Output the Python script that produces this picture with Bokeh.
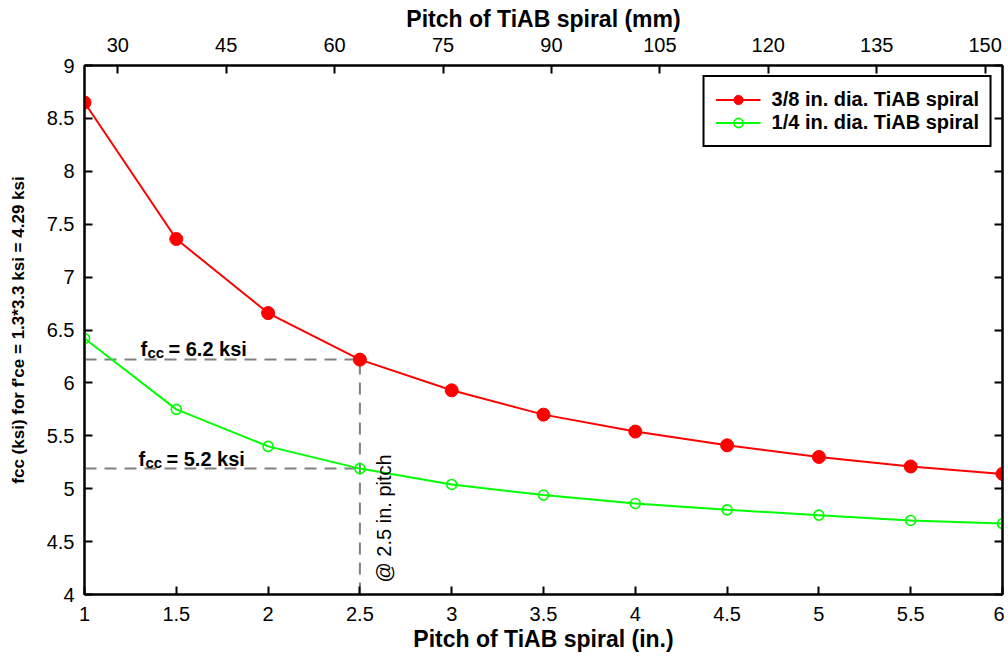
import math
from bokeh.plotting import figure
from bokeh.models import Range1d, LinearAxis, FixedTicker, Label, Legend, LegendItem
from bokeh.embed import file_html
from bokeh.resources import INLINE

# ---- data ----
pitch_in = [1, 1.5, 2, 2.5, 3, 3.5, 4, 4.5, 5, 5.5, 6]
fcc_38 = [8.65, 7.36, 6.66, 6.22, 5.93, 5.70, 5.54, 5.41, 5.30, 5.21, 5.14]
fcc_14 = [6.42, 5.75, 5.40, 5.19, 5.04, 4.94, 4.86, 4.80, 4.75, 4.70, 4.67]
x_ticks = [1, 1.5, 2, 2.5, 3, 3.5, 4, 4.5, 5, 5.5, 6]
y_ticks = [4, 4.5, 5, 5.5, 6, 6.5, 7, 7.5, 8, 8.5, 9]
mm_ticks = [30, 45, 60, 75, 90, 105, 120, 135, 150]
ref_pitch = 2.5
ref_fcc_38 = 6.22
ref_fcc_14 = 5.19
series_labels = ["3/8 in. dia. TiAB spiral", "1/4 in. dia. TiAB spiral"]

FONT = "Liberation Sans"
RED = "#ff0000"
GREEN = "#00ff00"

p = figure(width=1004, height=656,
           x_range=Range1d(1, 6), y_range=Range1d(4, 9),
           output_backend="svg", toolbar_location=None,
           min_border_left=84, min_border_right=2,
           min_border_top=65, min_border_bottom=62)
p.extra_x_ranges = {"mm": Range1d(25.4, 152.4)}
p.xgrid.visible = False
p.ygrid.visible = False
p.outline_line_color = "black"
p.outline_line_width = 2
p.outline_line_alpha = 1
p.background_fill_color = "white"
p.border_fill_color = "white"

def style(ax):
    ax.axis_line_color = "black"
    ax.axis_line_width = 2
    ax.major_tick_line_color = "black"
    ax.major_tick_line_width = 2
    ax.major_tick_in = 8
    ax.major_tick_out = 0
    ax.minor_tick_line_color = None
    ax.major_label_text_font = FONT
    ax.major_label_text_font_size = "20px"
    ax.major_label_text_color = "black"
    ax.axis_label_text_font = FONT
    ax.axis_label_text_font_style = "bold"
    ax.axis_label_text_color = "black"

xa = p.xaxis[0]
xa.ticker = FixedTicker(ticks=x_ticks)
xa.axis_label = "Pitch of TiAB spiral (in.)"
style(xa)
xa.axis_label_text_font_size = "23px"
xa.major_label_standoff = 12
xa.axis_label_standoff = 2

ya = p.yaxis[0]
ya.ticker = FixedTicker(ticks=y_ticks)
ya.axis_label = "fcc (ksi) for f'ce = 1.3*3.3 ksi = 4.29 ksi"
style(ya)
ya.axis_label_text_font_size = "17px"
ya.major_label_standoff = 10
ya.axis_label_standoff = 16

top = LinearAxis(x_range_name="mm", ticker=FixedTicker(ticks=mm_ticks),
                 axis_label="Pitch of TiAB spiral (mm)")
style(top)
top.axis_label_text_font_size = "23px"
top.major_label_standoff = 14
top.axis_label_standoff = 3
p.add_layout(top, "above")

right = LinearAxis(ticker=FixedTicker(ticks=y_ticks),
                   major_label_overrides={float(t): "" for t in y_ticks})
style(right)
right.major_label_standoff = 0
p.add_layout(right, "right")

# reference dashed lines
dash_kw = dict(line_color="#808080", line_width=2, line_dash="12 8")
p.line([1, ref_pitch], [ref_fcc_38, ref_fcc_38], **dash_kw)
p.line([1, ref_pitch], [ref_fcc_14, ref_fcc_14], **dash_kw)
p.line([ref_pitch, ref_pitch], [4, ref_fcc_38], **dash_kw)

# series
l1 = p.line(pitch_in, fcc_38, line_color=RED, line_width=2)
s1 = p.scatter(pitch_in, fcc_38, size=13, fill_color=RED, line_color=RED)
l2 = p.line(pitch_in, fcc_14, line_color=GREEN, line_width=2)
s2 = p.scatter(pitch_in, fcc_14, size=10, fill_color=None, line_color=GREEN, line_width=1.6)

legend = Legend(items=[LegendItem(label=series_labels[0], renderers=[l1, s1]),
                       LegendItem(label=series_labels[1], renderers=[l2, s2])],
                location="top_right")
legend.margin = 10
legend.padding = 11
legend.spacing = 0
legend.glyph_width = 45
legend.glyph_height = 23
legend.label_standoff = 11
legend.label_height = 23
legend.label_text_font = FONT
legend.label_text_font_style = "bold"
legend.label_text_font_size = "20px"
legend.label_text_color = "black"
legend.border_line_color = "black"
legend.border_line_width = 2
legend.border_line_alpha = 1
legend.background_fill_color = "white"
legend.background_fill_alpha = 1
p.add_layout(legend)

# annotations
def fcc_label(x, y, val):
    kw = dict(text_font=FONT, text_font_style="bold", text_color="black",
              text_baseline="alphabetic", text_align="left")
    p.add_layout(Label(x=x, y=y, text="f", text_font_size="20px", **kw))
    p.add_layout(Label(x=x, y=y, x_offset=7, y_offset=-4, text="cc", text_font_size="15px", **kw))
    p.add_layout(Label(x=x, y=y, x_offset=28, text="= %s ksi" % val, text_font_size="20px", **kw))

fcc_label(1.305, 6.325, "6.2")
fcc_label(1.294, 5.285, "5.2")

p.add_layout(Label(x=ref_pitch, y=4, x_offset=24, y_offset=12, angle=math.pi / 2,
                   text="@ 2.5 in. pitch", text_font=FONT, text_font_size="20px",
                   text_align="left", text_baseline="middle", text_color="black"))

open("out.html", "w").write(file_html(p, INLINE))
